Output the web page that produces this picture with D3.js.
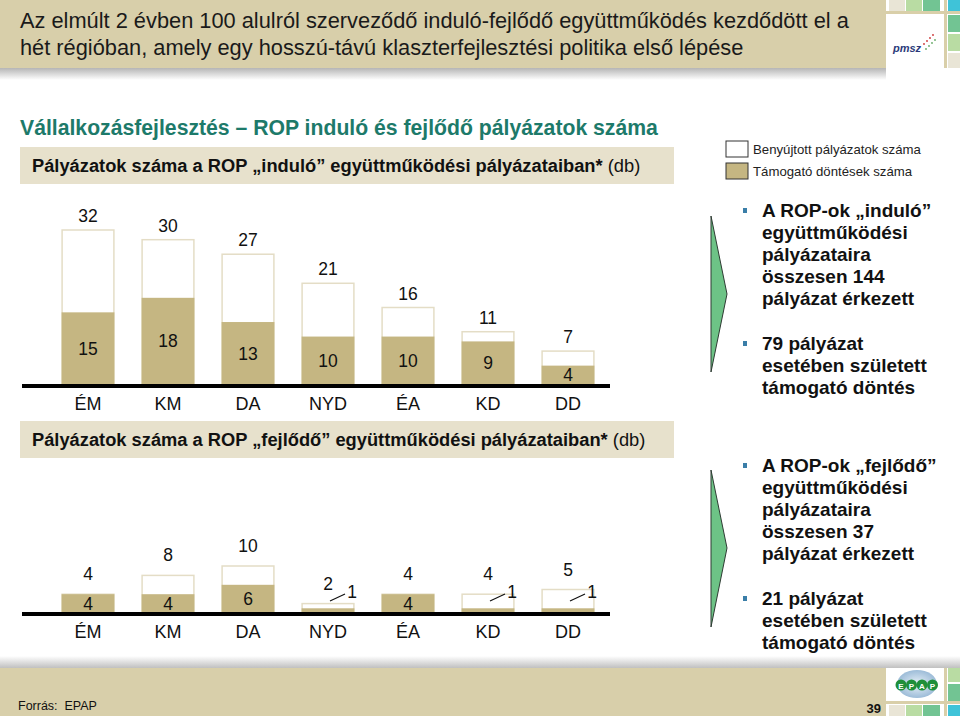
<!DOCTYPE html>
<html>
<head>
<meta charset="utf-8">
<script src="https://cdn.jsdelivr.net/npm/d3@7"></script>
<style>
html,body{margin:0;padding:0;background:#fff;}
svg{display:block;font-family:"Liberation Sans",Arial,sans-serif;}
</style>
</head>
<body>
<svg id="c" width="960" height="716"></svg>
<script>
// ---- data ----
const categories = ["ÉM","KM","DA","NYD","ÉA","KD","DD"];
const startSubmitted = [32,30,27,21,16,11,7];
const startSupported = [15,18,13,10,10,9,4];
const devSubmitted = [4,8,10,2,4,4,5];
const devSupported = [4,4,6,1,4,1,1];
const legendLabels = ["Benyújtott pályázatok száma","Támogató döntések száma"];
const titleLines = ["Az elmúlt 2 évben 100 alulról szerveződő induló-fejlődő együttműködés kezdődött el a",
                    "hét régióban, amely egy hosszú-távú klaszterfejlesztési politika első lépése"];
const sectionTitle = "Vállalkozásfejlesztés – ROP induló és fejlődő pályázatok száma";
const sub1 = ["Pályázatok száma a ROP „induló” együttműködési pályázataiban*"," (db)"];
const sub2 = ["Pályázatok száma a ROP „fejlődő” együttműködési pályázataiban*"," (db)"];
const bullets1 = [["A ROP-ok „induló”","együttműködési","pályázataira","összesen 144","pályázat érkezett"],
                  ["79 pályázat","esetében született","támogató döntés"]];
const bullets2 = [["A ROP-ok „fejlődő”","együttműködési","pályázataira","összesen 37","pályázat érkezett"],
                  ["21 pályázat","esetében született","támogató döntés"]];

const BEIGE="#d8cfaa", LIGHT="#e7e1cc", FILL="#c5b682", OUTLINE="#e4ddc6", TEAL="#1d7a6a";
const svg = d3.select("#c");
const defs = svg.append("defs");
const g1 = defs.append("linearGradient").attr("id","shadowDown").attr("x1",0).attr("y1",0).attr("x2",0).attr("y2",1);
g1.append("stop").attr("offset","0%").attr("stop-color","#b5b5b5");
g1.append("stop").attr("offset","100%").attr("stop-color","#ffffff");
const g2 = defs.append("linearGradient").attr("id","shadowUp").attr("x1",0).attr("y1",1).attr("x2",0).attr("y2",0);
g2.append("stop").attr("offset","0%").attr("stop-color","#c0c0c0");
g2.append("stop").attr("offset","100%").attr("stop-color","#ffffff");
const rg = defs.append("radialGradient").attr("id","globe");
rg.append("stop").attr("offset","0%").attr("stop-color","#e8f1f8");
rg.append("stop").attr("offset","100%").attr("stop-color","#9dbcd8");

// ---- header ----
svg.append("rect").attr("x",0).attr("y",0).attr("width",886).attr("height",68).attr("fill",BEIGE);
svg.append("rect").attr("x",0).attr("y",68).attr("width",886).attr("height",12).attr("fill","url(#shadowDown)");
svg.append("g").selectAll("text").data(titleLines).join("text")
  .attr("x",20).attr("y",(d,i)=>28+i*27).attr("font-size",21.8).attr("fill","#1a1a1a").text(d=>d);
// header decoration
svg.append("rect").attr("x",886).attr("y",0).attr("width",74).attr("height",80).attr("fill","#ffffff");
[["#e9e5d6",889,0,16,11],["#b9dca3",906,0,16,11],["#72c493",923,0,17,11],["#3fc3d8",948,0,12,11],
 ["#72c493",948,15,12,17],["#b9dca3",948,34,12,17],["#e9e5d6",948,53,12,15]].forEach(d=>{
  svg.append("rect").attr("x",d[1]).attr("y",d[2]).attr("width",d[3]).attr("height",d[4]).attr("fill",d[0]);});
svg.append("rect").attr("x",886).attr("y",11).attr("width",74).attr("height",3).attr("fill","#d9cfa9");
svg.append("rect").attr("x",944).attr("y",0).attr("width",3).attr("height",68).attr("fill","#d9cfa9");
svg.append("text").attr("x",893).attr("y",52).attr("font-size",11).attr("font-style","italic").attr("font-weight","bold")
  .attr("fill","#2b3a7a").text("pmsz");
[[924,44,"#c33"],[927,41,"#c33"],[930,38,"#c33"],[933,35,"#c33"],[926,49,"#6a6"],[929,46,"#6a6"],[932,43,"#6a6"],[935,40,"#6a6"]]
  .forEach(d=>svg.append("circle").attr("cx",d[0]).attr("cy",d[1]).attr("r",0.9).attr("fill",d[2]));

// ---- section title ----
svg.append("text").attr("x",20).attr("y",135).attr("font-size",21.2).attr("font-weight","bold")
  .attr("fill",TEAL).text(sectionTitle);

function subBand(y, parts){
  svg.append("rect").attr("x",20).attr("y",y).attr("width",654).attr("height",37).attr("fill",LIGHT);
  const t = svg.append("text").attr("x",32).attr("y",y+25).attr("font-size",18.3).attr("fill","#111");
  t.append("tspan").attr("font-weight","bold").text(parts[0]);
  t.append("tspan").text(parts[1]);
}
subBand(147, sub1);
subBand(421, sub2);

// ---- legend ----
const leg = svg.append("g");
leg.selectAll("rect").data(legendLabels).join("rect")
  .attr("x",726).attr("y",(d,i)=>141+i*22).attr("width",22).attr("height",16)
  .attr("fill",(d,i)=>i?FILL:"#fff").attr("stroke","#333").attr("stroke-width",1);
leg.selectAll("text").data(legendLabels).join("text")
  .attr("x",753).attr("y",(d,i)=>154+i*22).attr("font-size",13.2).attr("fill","#222").text(d=>d);

// ---- charts ----
const x = d3.scaleBand().domain(categories).range([48,608]).paddingInner(0.34).paddingOuter(0.17);

function chart(base, maxV, topY, submitted, supported, totalOff, leaders){
  const y = d3.scaleLinear().domain([0,maxV]).range([base, topY]);
  const g = svg.append("g");
  const data = categories.map((c,i)=>({c, s:submitted[i], p:supported[i]}));
  g.selectAll(".sub").data(data).join("rect")
    .attr("x",d=>x(d.c)+0.5).attr("width",x.bandwidth()-1)
    .attr("y",d=>y(d.s)).attr("height",d=>y(0)-y(d.s))
    .attr("fill","#fff").attr("stroke",OUTLINE).attr("stroke-width",1.5);
  g.selectAll(".sup").data(data).join("rect")
    .attr("x",d=>x(d.c)).attr("width",x.bandwidth())
    .attr("y",d=>y(d.p)).attr("height",d=>y(0)-y(d.p)).attr("fill",FILL);
  // total labels
  g.selectAll(".tl").data(data).join("text")
    .attr("x",d=>x(d.c)+x.bandwidth()/2).attr("y",d=>y(d.s)-totalOff+6)
    .attr("text-anchor","middle").attr("font-size",17.5).attr("fill","#111").text(d=>d.s);
  // inner labels
  const inner = data.filter(d=>!(leaders && d.p===1));
  g.selectAll(".il").data(inner).join("text")
    .attr("x",d=>x(d.c)+x.bandwidth()/2).attr("y",d=>(y(d.p)+y(0))/2+6)
    .attr("text-anchor","middle").attr("font-size",17.5).attr("fill","#111").text(d=>d.p);
  if(leaders){
    const small = data.filter(d=>d.p===1);
    small.forEach(d=>{
      const cx = x(d.c)+x.bandwidth()/2;
      g.append("line").attr("x1",cx+2).attr("y1",y(0)-12).attr("x2",cx+17).attr("y2",y(0)-19)
        .attr("stroke","#111").attr("stroke-width",1.2);
      g.append("text").attr("x",cx+24).attr("y",y(0)-15).attr("text-anchor","middle")
        .attr("font-size",17.5).attr("fill","#111").text(d.p);
    });
  }
  // axis line
  g.append("line").attr("x1",22).attr("x2",610).attr("y1",base+1).attr("y2",base+1)
    .attr("stroke","#000").attr("stroke-width",4);
  const ax = d3.axisBottom(x).tickSize(0).tickPadding(0);
  const axg = g.append("g").attr("transform",`translate(0,${base+12})`).call(ax);
  axg.select(".domain").remove();
  axg.selectAll("text").attr("font-size",18).attr("fill","#111")
    .attr("font-family","\"Liberation Sans\",Arial,sans-serif").attr("dy","0.71em");
}
chart(385, 32, 230, startSubmitted, startSupported, 14, false);
chart(613, 10, 566, devSubmitted, devSupported, 20, true);

// ---- arrows & bullets ----
function arrow(top, bottom, tipY){
  svg.append("path").attr("d",`M711,${top} L727,${tipY} L711,${bottom} Z`)
    .attr("fill","#6dc386").attr("stroke","#2e3b33").attr("stroke-width",1);
}
arrow(216, 372, 294);
arrow(470, 627, 548);
function bulletBlock(groups, starts){
  groups.forEach((lines,gi)=>{
    const y0 = starts[gi];
    svg.append("rect").attr("x",743).attr("y",y0-9).attr("width",4).attr("height",5).attr("fill","#3a7ea8");
    svg.append("g").selectAll("text").data(lines).join("text")
      .attr("x",762).attr("y",(d,i)=>y0+i*22).attr("font-size",19).attr("font-weight","bold")
      .attr("fill","#111").text(d=>d);
  });
}
bulletBlock(bullets1,[217,350]);
bulletBlock(bullets2,[472,605]);

// ---- footer ----
svg.append("rect").attr("x",0).attr("y",656).attr("width",960).attr("height",12).attr("fill","url(#shadowUp)");
svg.append("rect").attr("x",0).attr("y",668).attr("width",886).attr("height",48).attr("fill",BEIGE);
svg.append("text").attr("x",18).attr("y",710).attr("font-size",12.5).attr("fill","#111").attr("xml:space","preserve").text("Forrás:  EPAP");
svg.append("text").attr("x",881).attr("y",713).attr("text-anchor","end").attr("font-size",13).attr("font-weight","bold").attr("fill","#111").text("39");
svg.append("rect").attr("x",886).attr("y",668).attr("width",74).attr("height",48).attr("fill","#fff");
svg.append("rect").attr("x",889).attr("y",668).attr("width",55).attr("height",33).attr("fill","#fff");
svg.append("ellipse").attr("cx",917).attr("cy",684).attr("rx",20).attr("ry",14).attr("fill","url(#globe)");
["E","P","A","P"].forEach((ch,i)=>{
  const cx = 901+i*10.5;
  svg.append("circle").attr("cx",cx).attr("cy",685).attr("r",5.5).attr("fill","#1f8f3a");
  svg.append("text").attr("x",cx).attr("y",688.5).attr("text-anchor","middle").attr("font-size",8)
    .attr("font-weight","bold").attr("fill","#fff").text(ch);
});
svg.append("rect").attr("x",886).attr("y",701).attr("width",74).attr("height",3).attr("fill","#d9cfa9");
svg.append("rect").attr("x",944).attr("y",668).attr("width",3).attr("height",48).attr("fill","#d9cfa9");
[["#e9e5d6",889,705,16,11],["#b9dca3",906,705,16,11],["#72c493",923,705,17,11],
 ["#b9dca3",948,668,12,14],["#72c493",948,684,12,17],["#3fc3d8",948,705,12,11]].forEach(d=>{
  svg.append("rect").attr("x",d[1]).attr("y",d[2]).attr("width",d[3]).attr("height",d[4]).attr("fill",d[0]);});
</script>
</body>
</html>
